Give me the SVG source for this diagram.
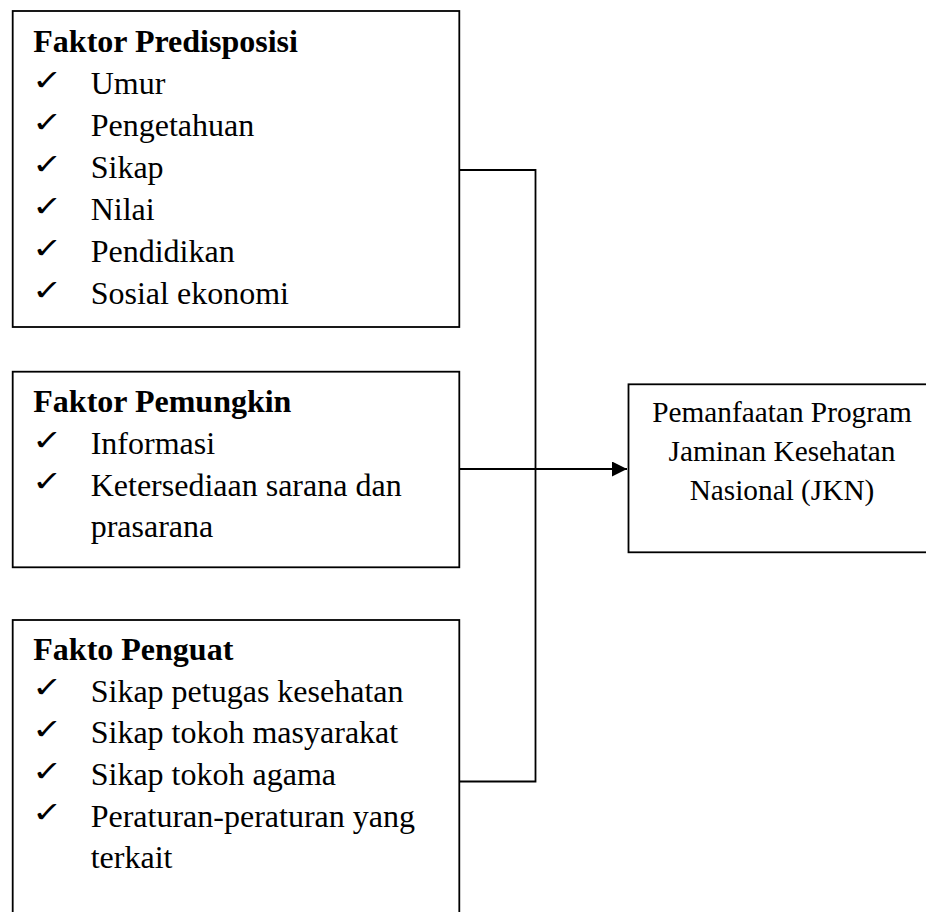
<svg xmlns="http://www.w3.org/2000/svg" width="926" height="912" viewBox="0 0 926 912">
<defs>
<style>
.box{fill:#fff;stroke:#000;stroke-width:1.8}
.t{font-family:"Liberation Serif","Times New Roman",serif;font-size:32px;fill:#000}
.b{font-weight:bold}
.r{font-family:"Liberation Serif","Times New Roman",serif;font-size:29.3px;fill:#000;text-anchor:middle}
.ck{font-family:"DejaVu Sans",sans-serif;font-size:27px;font-weight:bold;fill:#000}
.ln{fill:none;stroke:#000;stroke-width:1.8}
</style>
<marker id="arr" markerUnits="userSpaceOnUse" markerWidth="16" markerHeight="16" refX="15" refY="7.5" orient="auto">
<path d="M0,0 L15,7.5 L0,15 Z" fill="#000"/>
</marker>
</defs>
<rect width="926" height="912" fill="#fff"/>
<g id="connectors">
<polyline class="ln" points="459,170 535.5,170 535.5,781.5 459,781.5"/>
<line class="ln" x1="459" y1="469" x2="627" y2="469" stroke-width="2.4" marker-end="url(#arr)"/>
</g>
<g id="faktor-predisposisi">
<rect class="box" x="12.7" y="11" width="446.6" height="316"/>
<text class="t b" x="33.3" y="52">Faktor Predisposisi</text>
<text class="ck" transform="translate(32,89.5) scale(1.35,1.05)">✓</text><text class="t" x="90.7" y="94">Umur</text>
<text class="ck" transform="translate(32,131.5) scale(1.35,1.05)">✓</text><text class="t" x="90.7" y="136">Pengetahuan</text>
<text class="ck" transform="translate(32,173.5) scale(1.35,1.05)">✓</text><text class="t" x="90.7" y="178">Sikap</text>
<text class="ck" transform="translate(32,215.5) scale(1.35,1.05)">✓</text><text class="t" x="90.7" y="220">Nilai</text>
<text class="ck" transform="translate(32,257.5) scale(1.35,1.05)">✓</text><text class="t" x="90.7" y="262">Pendidikan</text>
<text class="ck" transform="translate(32,299.5) scale(1.35,1.05)">✓</text><text class="t" x="90.7" y="304">Sosial ekonomi</text>
</g>
<g id="faktor-pemungkin">
<rect class="box" x="12.7" y="371.7" width="446.6" height="195.6"/>
<text class="t b" x="33.3" y="411.7">Faktor Pemungkin</text>
<text class="ck" transform="translate(32,449.5) scale(1.35,1.05)">✓</text><text class="t" x="90.7" y="454">Informasi</text>
<text class="ck" transform="translate(32,491.2) scale(1.35,1.05)">✓</text><text class="t" x="90.7" y="495.7">Ketersediaan sarana dan</text>
<text class="t" x="90.7" y="537.3">prasarana</text>
</g>
<g id="fakto-penguat">
<rect class="box" x="12.7" y="620" width="446.6" height="320"/>
<text class="t b" x="33.3" y="660">Fakto Penguat</text>
<text class="ck" transform="translate(32,697.2) scale(1.35,1.05)">✓</text><text class="t" x="90.7" y="701.7">Sikap petugas kesehatan</text>
<text class="ck" transform="translate(32,738.8) scale(1.35,1.05)">✓</text><text class="t" x="90.7" y="743.3">Sikap tokoh masyarakat</text>
<text class="ck" transform="translate(32,780.5) scale(1.35,1.05)">✓</text><text class="t" x="90.7" y="785">Sikap tokoh agama</text>
<text class="ck" transform="translate(32,822.2) scale(1.35,1.05)">✓</text><text class="t" x="90.7" y="826.7">Peraturan-peraturan yang</text>
<text class="t" x="90.7" y="868.3">terkait</text>
</g>
<g id="pemanfaatan-jkn">
<rect class="box" x="628.5" y="384.3" width="320" height="168"/>
<text class="r" x="782" y="421.7">Pemanfaatan Program</text>
<text class="r" x="782" y="460.7">Jaminan Kesehatan</text>
<text class="r" x="782" y="500">Nasional (JKN)</text>
</g>
</svg>
